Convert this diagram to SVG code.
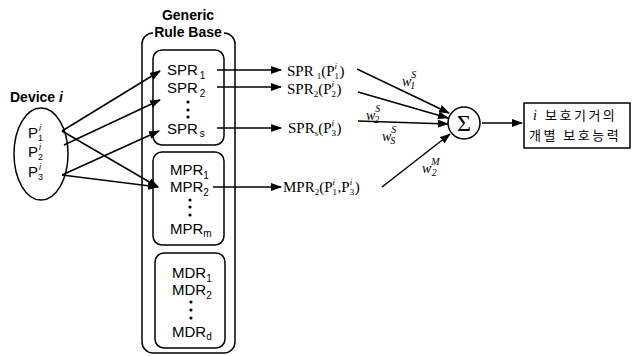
<svg xmlns="http://www.w3.org/2000/svg" width="640" height="356" viewBox="0 0 640 356">
<defs>
<marker id="ah" markerUnits="userSpaceOnUse" markerWidth="11" markerHeight="8" refX="10" refY="4" orient="auto">
<path d="M0,0 L11,4 L0,8 z" fill="#000"/>
</marker>
<style>
.ln{stroke:#000;stroke-width:1.5;fill:none}
.ar{stroke:#000;stroke-width:1.5;fill:none;marker-end:url(#ah)}
.box{stroke:#000;stroke-width:1.5;fill:none}
.sans{font-family:"Liberation Sans",Arial,sans-serif;font-size:15px;fill:#000}
.bold{font-family:"Liberation Sans",Arial,sans-serif;font-size:14px;font-weight:bold;fill:#000}
.ser{font-family:"Liberation Serif","Times New Roman",serif;font-size:15px;fill:#000}
.w{font-family:"Liberation Serif","Times New Roman",serif;font-size:14px;font-style:italic;fill:#000}
.kr{font-family:"Noto Sans CJK KR",sans-serif;font-size:13px;letter-spacing:2.5px;fill:#000}
.s{font-size:10px}
.t{font-size:9px}
.dot{fill:#000}
</style>
</defs>
<rect width="640" height="356" fill="#fff"/>

<g id="device">
<text class="bold" x="10" y="102">Device <tspan font-style="italic">i</tspan></text>
<ellipse class="box" cx="41" cy="154" rx="27" ry="46"/>
<text class="sans" x="28" y="138">P<tspan class="t" dy="3">1</tspan><tspan class="t" font-style="italic" dx="-4" dy="-10">i</tspan></text>
<text class="sans" x="28" y="157">P<tspan class="t" dy="3">2</tspan><tspan class="t" font-style="italic" dx="-4" dy="-10">i</tspan></text>
<text class="sans" x="28" y="177">P<tspan class="t" dy="3">3</tspan><tspan class="t" font-style="italic" dx="-4" dy="-10">i</tspan></text>
</g>

<g id="rulebase">
<path class="box" d="M153 33 A11 11 0 0 0 142 44 V342 A11 11 0 0 0 153 353 H224 A11 11 0 0 0 235 342 V44 A11 11 0 0 0 224 33"/>
<text class="bold" x="188" y="20" text-anchor="middle">Generic</text>
<text class="bold" x="188" y="37" text-anchor="middle">Rule Base</text>
</g>

<g id="spr">
<rect class="box" x="153" y="50" width="71" height="95" rx="9"/>
<text class="sans" x="167" y="75">SPR<tspan class="s" dx="2" dy="4">1</tspan></text>
<text class="sans" x="167" y="93">SPR<tspan class="s" dx="2" dy="4">2</tspan></text>
<circle class="dot" cx="188" cy="102" r="1.6"/><circle class="dot" cx="188" cy="110" r="1.6"/><circle class="dot" cx="188" cy="117" r="1.6"/>
<text class="sans" x="167" y="134">SPR<tspan class="s" dx="2" dy="3">s</tspan></text>
</g>

<g id="mpr">
<rect class="box" x="153" y="152" width="71" height="93" rx="9"/>
<text class="sans" x="170" y="175">MPR<tspan class="s" dy="4">1</tspan></text>
<text class="sans" x="170" y="192">MPR<tspan class="s" dy="4">2</tspan></text>
<circle class="dot" cx="190" cy="200" r="1.6"/><circle class="dot" cx="190" cy="207" r="1.6"/><circle class="dot" cx="190" cy="215" r="1.6"/>
<text class="sans" x="170" y="234">MPR<tspan class="s" dy="3">m</tspan></text>
</g>

<g id="mdr">
<rect class="box" x="155" y="253" width="70" height="95" rx="9"/>
<text class="sans" x="172" y="278">MDR<tspan class="s" dy="4">1</tspan></text>
<text class="sans" x="172" y="295">MDR<tspan class="s" dy="4">2</tspan></text>
<circle class="dot" cx="191" cy="302" r="1.6"/><circle class="dot" cx="191" cy="310" r="1.6"/><circle class="dot" cx="191" cy="318" r="1.6"/>
<text class="sans" x="172" y="337">MDR<tspan class="s" dy="3">d</tspan></text>
</g>

<g id="outputs">
<text class="ser" x="287" y="76">SPR<tspan class="t" dx="3" dy="3">1</tspan><tspan dy="-3">(P</tspan><tspan class="t" dy="3">1</tspan><tspan class="t" font-style="italic" dx="-4.5" dy="-10">i</tspan><tspan dx="2.5" dy="7">)</tspan></text>
<text class="ser" x="287" y="94">SPR<tspan class="t" dy="3">2</tspan><tspan dy="-3">(P</tspan><tspan class="t" dy="3">2</tspan><tspan class="t" font-style="italic" dx="-4.5" dy="-10">i</tspan><tspan dx="2.5" dy="7">)</tspan></text>
<text class="ser" x="288" y="133">SPR<tspan class="t" dy="3">s</tspan><tspan dy="-3">(P</tspan><tspan class="t" dy="3">3</tspan><tspan class="t" font-style="italic" dx="-4.5" dy="-10">i</tspan><tspan dx="2.5" dy="7">)</tspan></text>
<text class="ser" x="283" y="192">MPR<tspan class="t" dy="3">2</tspan><tspan dy="-3">(P</tspan><tspan class="t" dy="3">1</tspan><tspan class="t" font-style="italic" dx="-4.5" dy="-10">i</tspan><tspan dx="2.5" dy="7">,P</tspan><tspan class="t" dy="3">3</tspan><tspan class="t" font-style="italic" dx="-4.5" dy="-10">i</tspan><tspan dx="2.5" dy="7">)</tspan></text>
</g>

<g id="sum">
<circle class="box" cx="464" cy="123" r="16"/>
<text x="464" y="131" text-anchor="middle" font-family="'Liberation Serif','Times New Roman',serif" font-size="24">Σ</text>
</g>

<g id="result">
<rect class="box" x="524" y="103" width="106" height="45"/>
<text class="kr" x="533" y="120"><tspan font-family="'Liberation Serif',serif" font-style="italic" font-size="14">i</tspan><tspan x="545">보호기거의</tspan></text>
<text class="kr" x="529" y="140">개별 보호능력</text>
</g>

<g id="weights">
<text class="w" x="402" y="86">w<tspan class="s" dy="-8">S</tspan><tspan class="s" dx="-6" dy="11">1</tspan></text>
<text class="w" x="366" y="120">w<tspan class="s" dy="-8">S</tspan><tspan class="s" dx="-6" dy="11">2</tspan></text>
<text class="w" x="382" y="141">w<tspan class="s" dy="-8">S</tspan><tspan class="s" dx="-6" dy="11">S</tspan></text>
<text class="w" x="422" y="173">w<tspan class="s" dy="-8">M</tspan><tspan class="s" dx="-8" dy="11">2</tspan></text>
</g>

<g id="connectors">
<line class="ar" x1="62" y1="131" x2="160" y2="71"/>
<line class="ar" x1="64" y1="145" x2="160" y2="100"/>
<line class="ar" x1="62" y1="175" x2="159" y2="131"/>
<line class="ar" x1="62" y1="131" x2="158" y2="187"/>
<line class="ar" x1="62" y1="175" x2="158" y2="187"/>
<line class="ar" x1="217" y1="70" x2="281" y2="70"/>
<line class="ar" x1="217" y1="87" x2="281" y2="87"/>
<line class="ar" x1="217" y1="128" x2="281" y2="128"/>
<line class="ar" x1="213" y1="187" x2="281" y2="187"/>
<line class="ar" x1="357" y1="69" x2="449" y2="113"/>
<line class="ar" x1="358" y1="92" x2="448" y2="118"/>
<line class="ar" x1="358" y1="121" x2="448" y2="124"/>
<line class="ar" x1="382" y1="187" x2="450" y2="134"/>
<line class="ar" x1="482" y1="123" x2="522" y2="123"/>
</g>
</svg>
